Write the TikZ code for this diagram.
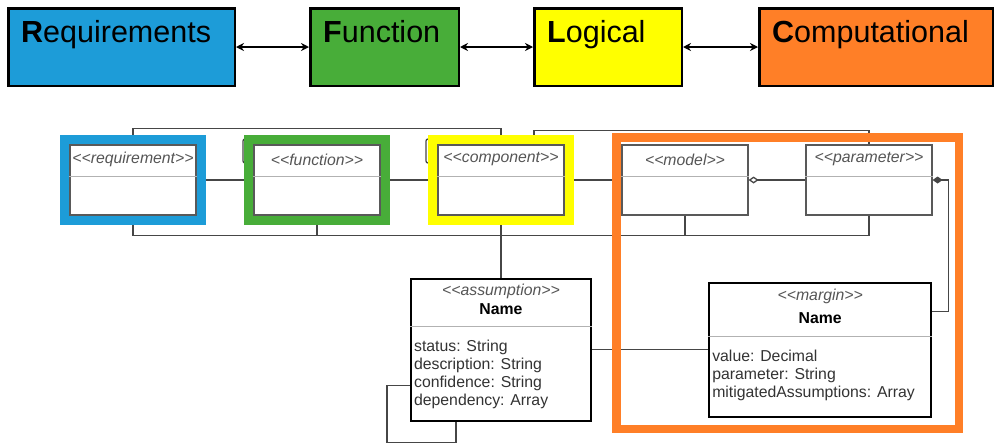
\documentclass[tikz,border=0pt]{standalone}
\usepackage{fontspec}
\setmainfont{Liberation Sans}[Ligatures=TeXOff]
\usepackage{xcolor}
\usetikzlibrary{arrows.meta,positioning,calc,fit}

\definecolor{reqblue}{RGB}{29,156,216}
\definecolor{funcgreen}{RGB}{72,173,57}
\definecolor{logyellow}{RGB}{255,255,0}
\definecolor{comporange}{RGB}{255,127,39}
\definecolor{linegray}{RGB}{70,70,70}
\definecolor{textgray}{RGB}{85,85,85}

\newcommand{\stype}[1]{<\kern0pt<#1>\kern0pt>}

\begin{document}
\begin{tikzpicture}[
        x=1pt, y=-1pt,
        % Caixas das camadas (topo)
        layer box/.style = {
            draw=black,
            line width=2.5pt,
            minimum width=#1,
            minimum height=77.5pt,
            inner sep=0pt
        },
        layer title/.style = {
            font=\fontsize{30.5}{36}\selectfont,
            anchor=base west,
            inner sep=0pt
        },
        % Seta dupla entre camadas
        layer arrow/.style = {
            {Stealth[length=8pt,width=8pt]}-{Stealth[length=8pt,width=8pt]},
            line width=2pt
        },
        % Classes UML
        class box/.style = {
            draw=black!65,
            line width=1.2pt,
            fill=white,
            minimum width=126pt,
            minimum height=70pt,
            inner sep=0pt
        },
        big class/.style = {
            draw=black,
            line width=2.2pt,
            fill=white,
            inner sep=0pt
        },
        stereo/.style = {font=\fontsize{15.8}{18}\selectfont\itshape, text=textgray, inner sep=0pt},
        class name/.style = {font=\fontsize{15.8}{18}\selectfont\bfseries, inner sep=0pt},
        attrs/.style = {font=\fontsize{15.8}{18}\selectfont, text=black!80, align=left, inner sep=0pt, anchor=north west},
        divider/.style = {draw=black!30, line width=1pt},
        % Ligacoes
        link/.style = {draw=linegray, line width=1.3pt},
        % Moldura colorida
        frame/.style = {draw=#1, line width=9pt, inner sep=5.1pt}
    ]
    \useasboundingbox (0,0) rectangle (996,445);

    % Camadas
    \node[layer box=226.5, fill=reqblue] (reqbox) at (121.5,47) {};
    \node[layer box=148.5, fill=funcgreen] (funcbox) at (384.5,47) {};
    \node[layer box=147.5, fill=logyellow] (logbox) at (608,47) {};
    \node[layer box=233.5, fill=comporange] (compbox) at (876,47) {};
    \node[layer title] (reqtitle) at ([xshift=14pt,yshift=-35pt]reqbox.north west) {\textbf{R}equirements};
    \node[layer title] (functitle) at ([xshift=14pt,yshift=-35pt]funcbox.north west) {\textbf{F}unction};
    \node[layer title] (logtitle) at ([xshift=14pt,yshift=-35pt]logbox.north west) {\textbf{L}ogical};
    \node[layer title] (comptitle) at ([xshift=14pt,yshift=-35pt]compbox.north west) {\textbf{C}omputational};
    \draw[layer arrow] (reqbox) -- (funcbox);
    \draw[layer arrow] (funcbox) -- (logbox);
    \draw[layer arrow] (logbox) -- (compbox);

    % Classes
    \node[class box] (reqclass) at (133,180) {};
    \node[class box, right=56.8pt of reqclass] (funcclass) {};
    \node[class box, right=56.8pt of funcclass] (compclass) {};
    \node[class box, right=56.8pt of compclass] (modelclass) {};
    \node[class box, right=56.8pt of modelclass] (paramclass) {};
    \foreach \cls/\st in {reqclass/requirement, funcclass/function, compclass/component, modelclass/model, paramclass/parameter} {
        \node[stereo] (\cls-st) at ([yshift=-15pt]\cls.north) {\stype{\st}};
        \draw[divider] ([yshift=-32pt]\cls.north west) -- ([yshift=-32pt]\cls.north east);
    }

    % Assumption e margin
    \node[big class, minimum width=180pt, minimum height=142pt, below=62pt of compclass] (assump) {};
    \node[stereo] (assump-st) at ([yshift=-14pt]assump.north) {\stype{assumption}};
    \node[class name] (assump-name) at ([yshift=-32pt]assump.north) {Name};
    \draw[divider] ([yshift=-49pt]assump.north west) -- ([yshift=-49pt]assump.north east);
    \node[attrs] (assump-attr) at ([xshift=4pt,yshift=-62pt]assump.north west)
        {status: String\\description: String\\confidence: String\\dependency: Array};

    \node[big class, minimum width=222pt, minimum height=134pt, right=116pt of assump] (margin) {};
    \node[stereo] (margin-st) at ([yshift=-15pt]margin.north) {\stype{margin}};
    \node[class name] (margin-name) at ([yshift=-37pt]margin.north) {Name};
    \draw[divider] ([yshift=-55pt]margin.north west) -- ([yshift=-55pt]margin.north east);
    \node[attrs] (margin-attr) at ([xshift=4pt,yshift=-68pt]margin.north west)
        {value: Decimal\\parameter: String\\mitigatedAssumptions: Array};

    % Ligacoes entre classes
    \draw[link] (reqclass) -- (funcclass);
    \draw[link] (funcclass) -- (compclass);
    \draw[link] (compclass) -- (modelclass);
    \draw[link, {Diamond[open,length=10pt,width=7pt]}-] (modelclass) -- (paramclass);
    \draw[link, {Diamond[length=10pt,width=7pt]}-] (paramclass.east) -- ++(16,0) |- ([yshift=38pt]margin.east);
    \draw[link] (reqclass.north) -- ++(0,-16) -| (compclass.north);
    \draw[link] ([xshift=33pt]compclass.north) -- ++(0,-14) -| (paramclass.north);
    \draw[link] (reqclass.south) -- ++(0,20) -| (paramclass.south);
    \draw[link] (funcclass.south) -- ++(0,20);
    \draw[link] (modelclass.south) -- ++(0,20);
    \draw[link] (compclass.south) -- (assump.north);
    \draw[link] (assump) -- (margin);
    \draw[link] ([yshift=-36pt]assump.west) -- ++(-23,0) -- ++(0,57) -| ([xshift=-45pt]assump.south);
    \draw[link, rounded corners=2pt] (253,139) -- (243,139) -- (243,163) -- (253,163);
    \draw[link, rounded corners=2pt] (436,139) -- (426,139) -- (426,163) -- (436,163);

    % Molduras
    \node[frame=reqblue, fit=(reqclass)] (reqframe) {};
    \node[frame=funcgreen, fit=(funcclass)] (funcframe) {};
    \node[frame=logyellow, fit=(compclass)] (compframe) {};
    \node[frame=comporange, line width=8.5pt, minimum width=342.5pt, minimum height=291.5pt] (computframe) at (787.5,283) {};
\end{tikzpicture}
\end{document}
